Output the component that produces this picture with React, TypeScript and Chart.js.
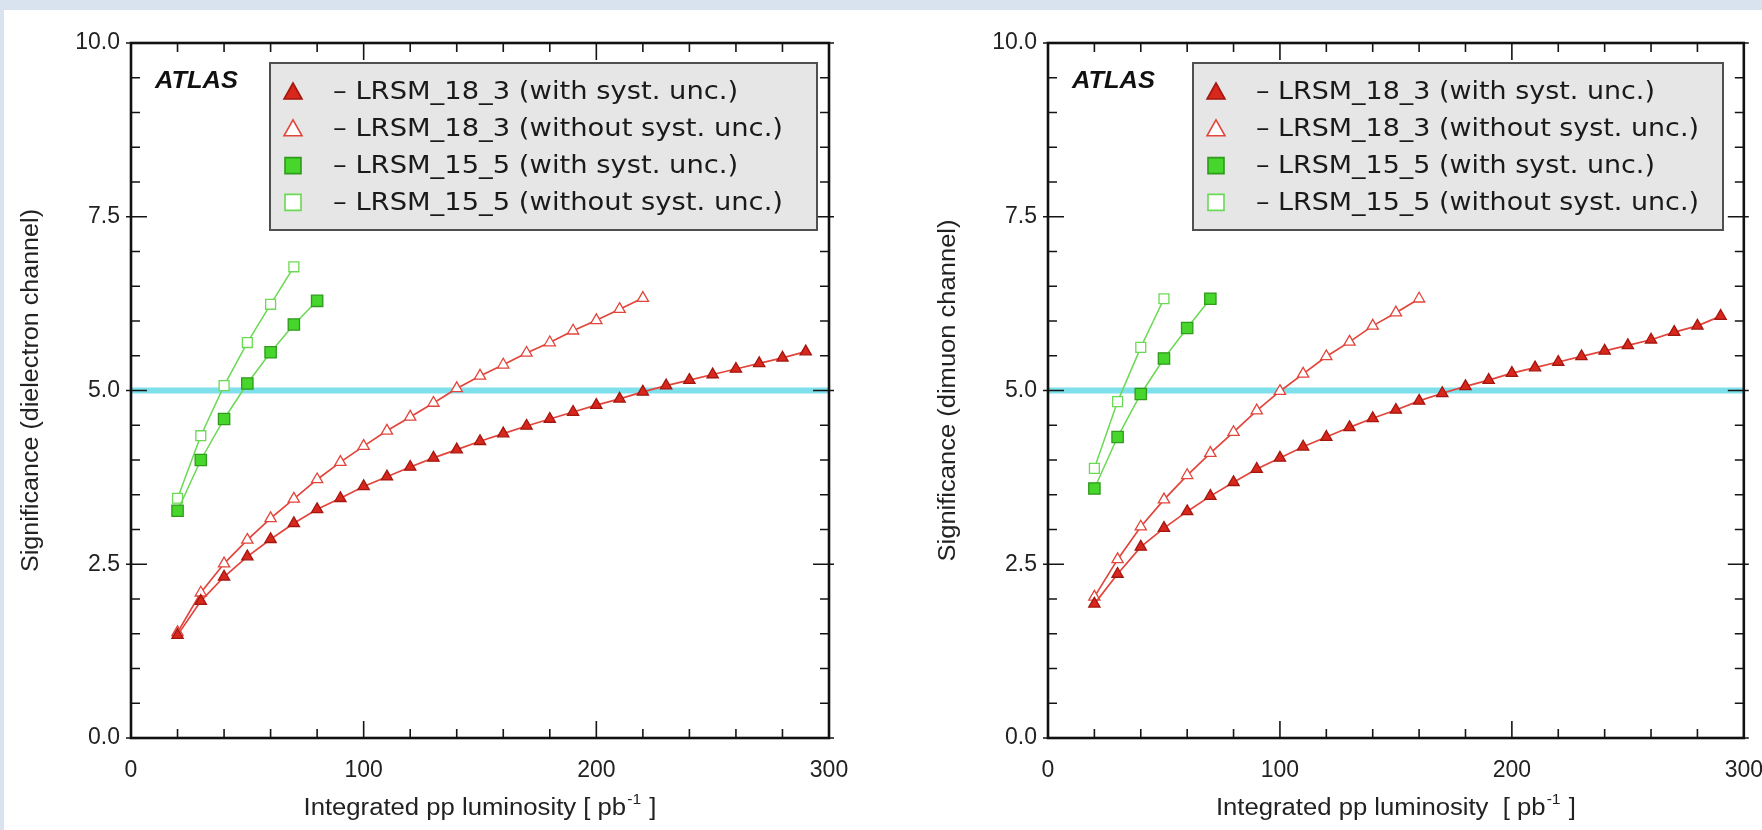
import React, { useEffect, useRef } from "react";
import { Chart, registerables } from "chart.js";

Chart.register(...registerables);

// Integrated luminosity points (pb^-1); each curve uses the first N of them
const luminosity = [20, 30, 40, 50, 60, 70, 80, 90, 100, 110, 120, 130, 140, 150, 160, 170, 180, 190, 200, 210, 220, 230, 240, 250, 260, 270, 280, 290];

// Dielectron channel significance
const eeLrsm183WithSyst = [1.48, 1.97, 2.32, 2.61, 2.86, 3.09, 3.29, 3.45, 3.62, 3.76, 3.9, 4.03, 4.15, 4.27, 4.38, 4.49, 4.59, 4.69, 4.79, 4.88, 4.98, 5.07, 5.15, 5.23, 5.31, 5.39, 5.47, 5.56];
const eeLrsm183NoSyst = [1.52, 2.09, 2.51, 2.85, 3.16, 3.44, 3.72, 3.97, 4.2, 4.42, 4.62, 4.82, 5.03, 5.21, 5.37, 5.54, 5.69, 5.86, 6.01, 6.17, 6.33];
const eeLrsm155WithSyst = [3.27, 4.0, 4.59, 5.1, 5.55, 5.95, 6.29];
const eeLrsm155NoSyst = [3.45, 4.35, 5.07, 5.69, 6.24, 6.78];

// Dimuon channel significance
const mmLrsm183WithSyst = [1.93, 2.36, 2.75, 3.02, 3.26, 3.48, 3.68, 3.87, 4.03, 4.19, 4.33, 4.47, 4.6, 4.72, 4.85, 4.96, 5.06, 5.15, 5.25, 5.33, 5.41, 5.49, 5.57, 5.65, 5.73, 5.84, 5.93, 6.07];
const mmLrsm183NoSyst = [2.03, 2.57, 3.04, 3.43, 3.78, 4.1, 4.4, 4.71, 4.99, 5.24, 5.49, 5.7, 5.93, 6.12, 6.32];
const mmLrsm155WithSyst = [3.59, 4.33, 4.95, 5.46, 5.9, 6.32];
const mmLrsm155NoSyst = [3.88, 4.84, 5.62, 6.32];

// 5 sigma discovery level
const discoveryLevel = 5.0;

const xTickLabels = ["0", "100", "200", "300"];
const yTickLabels = ["0.0", "2.5", "5.0", "7.5", "10.0"];

const seriesLabels = [
  "\u2013 LRSM_18_3 (with syst. unc.)",
  "\u2013 LRSM_18_3 (without syst. unc.)",
  "\u2013 LRSM_15_5 (with syst. unc.)",
  "\u2013 LRSM_15_5 (without syst. unc.)",
];

type MarkerStyle = {
  shape: "triangle" | "rect";
  radius: number;
  fill: string;
  edge: string;
  line: string;
  lineWidth: number;
};

const markerStyles: MarkerStyle[] = [
  { shape: "triangle", radius: 6.5, fill: "#d8271d", edge: "#a3170f", line: "#e2453b", lineWidth: 1.7 },
  { shape: "triangle", radius: 6.5, fill: "#ffffff", edge: "#e2453b", line: "#e2453b", lineWidth: 1.7 },
  { shape: "rect", radius: 8, fill: "#46d62c", edge: "#2f9a1c", line: "#6ad953", lineWidth: 1.5 },
  { shape: "rect", radius: 7, fill: "#ffffff", edge: "#6ad953", line: "#6ad953", lineWidth: 1.5 },
];

type PanelConfig = {
  yTitle: string;
  xTitlePre: string;
  xTitleSup: string;
  xTitlePost: string;
  series: number[][];
  canvasLeft: number;
  canvasWidth: number;
  axisWidth: number;
  padRight: number;
  legendOffset: number;
  legendWidth: number;
  legendTextWidth: number;
  yTitleWidth: number;
  xTitleWidth: number;
};

const panels: PanelConfig[] = [
  {
    yTitle: "Significance (dielectron channel)",
    xTitlePre: "Integrated pp luminosity [ pb",
    xTitleSup: "-1",
    xTitlePost: " ]",
    series: [eeLrsm183WithSyst, eeLrsm183NoSyst, eeLrsm155WithSyst, eeLrsm155NoSyst],
    canvasLeft: 0,
    canvasWidth: 880,
    axisWidth: 131,
    padRight: 51,
    legendOffset: 139,
    legendWidth: 547,
    legendTextWidth: 450,
    yTitleWidth: 363,
    xTitleWidth: 353,
  },
  {
    yTitle: "Significance (dimuon channel)",
    xTitlePre: "Integrated pp luminosity  [ pb",
    xTitleSup: "-1",
    xTitlePost: " ]",
    series: [mmLrsm183WithSyst, mmLrsm183NoSyst, mmLrsm155WithSyst, mmLrsm155NoSyst],
    canvasLeft: 880,
    canvasWidth: 902,
    axisWidth: 168,
    padRight: 35,
    legendOffset: 145,
    legendWidth: 530,
    legendTextWidth: 443,
    yTitleWidth: 342,
    xTitleWidth: 360,
  },
];

const SANS = '"Liberation Sans", Arial, sans-serif';
const TEXT = "#222222";

function drawLegendMarker(ctx: CanvasRenderingContext2D, s: MarkerStyle, cx: number, cy: number) {
  ctx.beginPath();
  if (s.shape === "triangle") {
    ctx.moveTo(cx, cy - 9);
    ctx.lineTo(cx + 9, cy + 7);
    ctx.lineTo(cx - 9, cy + 7);
    ctx.closePath();
  } else {
    ctx.rect(cx - 8, cy - 8, 16, 16);
  }
  ctx.fillStyle = s.fill;
  ctx.fill();
  ctx.lineWidth = 1.6;
  ctx.strokeStyle = s.edge;
  ctx.stroke();
}

// Frame, inward ticks, ATLAS tag, legend box and axis titles
function makeDecor(panel: PanelConfig) {
  return {
    id: "panelDecor",
    afterDraw(chart: Chart) {
      const { ctx, chartArea: a } = chart;
      const xs = chart.scales.x;
      const ys = chart.scales.y;
      ctx.save();

      // ticks on all four sides
      ctx.strokeStyle = "#151515";
      ctx.lineWidth = 1.6;
      ctx.beginPath();
      for (let i = 0; i <= 20; i++) {
        const v = i * 0.5;
        const y = ys.getPixelForValue(v);
        const major = i % 5 === 0;
        const inLen = major ? 16 : 9;
        const outLen = major ? 5 : 0;
        ctx.moveTo(a.left - outLen, y);
        ctx.lineTo(a.left + inLen, y);
        ctx.moveTo(a.right + outLen, y);
        ctx.lineTo(a.right - inLen, y);
      }
      for (let i = 0; i <= 15; i++) {
        const v = i * 20;
        const x = xs.getPixelForValue(v);
        const major = v % 100 === 0;
        const inLen = major ? 17 : 9;
        ctx.moveTo(x, a.bottom);
        ctx.lineTo(x, a.bottom - inLen);
        ctx.moveTo(x, a.top);
        ctx.lineTo(x, a.top + inLen);
      }
      ctx.stroke();

      // frame
      ctx.lineWidth = 2.6;
      ctx.strokeStyle = "#111111";
      ctx.strokeRect(a.left, a.top, a.right - a.left, a.bottom - a.top);

      // ATLAS tag
      ctx.font = `italic bold 23px ${SANS}`;
      ctx.fillStyle = "#111111";
      ctx.textBaseline = "middle";
      ctx.textAlign = "left";
      {
        const w = ctx.measureText("ATLAS").width;
        ctx.save();
        ctx.translate(a.left + 24, 82);
        ctx.scale(83 / w, 1);
        ctx.fillText("ATLAS", 0, 0);
        ctx.restore();
      }

      // legend box
      const bx = a.left + panel.legendOffset;
      const by = 63;
      const bh = 167;
      ctx.fillStyle = "#e6e6e6";
      ctx.fillRect(bx, by, panel.legendWidth, bh);
      ctx.lineWidth = 2;
      ctx.strokeStyle = "#4f4f4f";
      ctx.strokeRect(bx, by, panel.legendWidth, bh);
      ctx.font = `24px "DejaVu Sans", sans-serif`;
      const longest = Math.max(...seriesLabels.map((t) => ctx.measureText(t).width));
      const lsx = panel.legendTextWidth / longest;
      seriesLabels.forEach((label, i) => {
        const cy = by + 29 + i * 36.8;
        drawLegendMarker(ctx, markerStyles[i], bx + 23, cy);
        ctx.save();
        ctx.translate(bx + 63, cy + 1);
        ctx.scale(lsx, 1);
        ctx.fillStyle = "#1a1a1a";
        ctx.textAlign = "left";
        ctx.textBaseline = "middle";
        ctx.fillText(label, 0, 0);
        ctx.restore();
      });

      // y-axis title
      ctx.font = `23px ${SANS}`;
      ctx.fillStyle = TEXT;
      {
        const w = ctx.measureText(panel.yTitle).width;
        ctx.save();
        ctx.translate(a.left - 99, (a.top + a.bottom) / 2);
        ctx.rotate(-Math.PI / 2);
        ctx.scale(panel.yTitleWidth / w, 1);
        ctx.textAlign = "center";
        ctx.textBaseline = "middle";
        ctx.fillText(panel.yTitle, 0, 0);
        ctx.restore();
      }

      // x-axis title with superscript
      {
        ctx.font = `23px ${SANS}`;
        const w1 = ctx.measureText(panel.xTitlePre).width;
        const w3 = ctx.measureText(panel.xTitlePost).width;
        ctx.font = `14px ${SANS}`;
        const w2 = ctx.measureText(panel.xTitleSup).width + 2;
        const total = w1 + w2 + w3;
        ctx.save();
        ctx.translate((a.left + a.right) / 2, 809);
        ctx.scale(panel.xTitleWidth / total, 1);
        ctx.textAlign = "left";
        ctx.textBaseline = "middle";
        const start = -total / 2;
        ctx.font = `23px ${SANS}`;
        ctx.fillText(panel.xTitlePre, start, 0);
        ctx.font = `14px ${SANS}`;
        ctx.fillText(panel.xTitleSup, start + w1 + 1, -9);
        ctx.font = `23px ${SANS}`;
        ctx.fillText(panel.xTitlePost, start + w1 + w2, 0);
        ctx.restore();
      }

      ctx.restore();
    },
  };
}

function makeChart(canvas: HTMLCanvasElement, panel: PanelConfig) {
  const datasets: any[] = panel.series.map((values, i) => {
    const s = markerStyles[i];
    return {
      label: seriesLabels[i],
      data: values.map((y, j) => ({ x: luminosity[j], y })),
      borderColor: s.line,
      borderWidth: s.lineWidth,
      pointStyle: s.shape,
      pointRadius: s.radius,
      pointBackgroundColor: s.fill,
      pointBorderColor: s.edge,
      pointBorderWidth: 1.3,
      tension: 0,
      fill: false,
      order: 1,
    };
  });
  datasets.push({
    label: "5 sigma",
    data: [
      { x: 0, y: discoveryLevel },
      { x: 300, y: discoveryLevel },
    ],
    borderColor: "#7ee0eb",
    borderWidth: 6,
    pointRadius: 0,
    fill: false,
    order: 10,
  });

  const tickFont = { family: SANS, size: 23 };

  return new Chart(canvas, {
    type: "line",
    data: { datasets },
    options: {
      animation: false,
      responsive: false,
      devicePixelRatio: 1,
      events: [],
      layout: { padding: { top: 43, right: panel.padRight, bottom: 0, left: 0 } },
      plugins: {
        legend: { display: false },
        tooltip: { enabled: false },
      },
      scales: {
        x: {
          type: "linear",
          min: 0,
          max: 300,
          afterFit: (scale: any) => {
            scale.height = 92;
          },
          grid: { display: false, drawTicks: false },
          border: { display: false },
          ticks: {
            stepSize: 100,
            padding: 19,
            maxRotation: 0,
            autoSkip: false,
            font: tickFont,
            color: TEXT,
            callback: (v: any) => xTickLabels[Math.round(Number(v) / 100)] ?? "",
          },
        },
        y: {
          type: "linear",
          min: 0,
          max: 10,
          afterFit: (scale: any) => {
            scale.width = panel.axisWidth;
          },
          grid: { display: false, drawTicks: false },
          border: { display: false },
          ticks: {
            stepSize: 2.5,
            padding: 11,
            autoSkip: false,
            font: tickFont,
            color: TEXT,
            callback: (v: any) => yTickLabels[Math.round(Number(v) / 2.5)] ?? "",
          },
        },
      },
    } as any,
    plugins: [makeDecor(panel) as any],
  });
}

function SignificancePanel({ panel }: { panel: PanelConfig }) {
  const ref = useRef<HTMLCanvasElement>(null);
  useEffect(() => {
    if (!ref.current) return;
    const chart = makeChart(ref.current, panel);
    return () => chart.destroy();
  }, [panel]);
  return (
    <canvas
      ref={ref}
      width={panel.canvasWidth}
      height={830}
      style={{
        position: "absolute",
        left: panel.canvasLeft,
        top: 0,
        width: panel.canvasWidth,
        height: 830,
      }}
    />
  );
}

export default function App() {
  return (
    <div
      style={{
        position: "relative",
        width: 1762,
        height: 830,
        overflow: "hidden",
        background: "#d9e3ef",
      }}
    >
      <style>{`html, body { margin: 0; padding: 0; overflow: hidden; }`}</style>
      <div
        style={{
          position: "absolute",
          left: 4,
          top: 10,
          right: 0,
          bottom: 0,
          background: "#ffffff",
        }}
      />
      {panels.map((p, i) => (
        <SignificancePanel key={i} panel={p} />
      ))}
    </div>
  );
}
